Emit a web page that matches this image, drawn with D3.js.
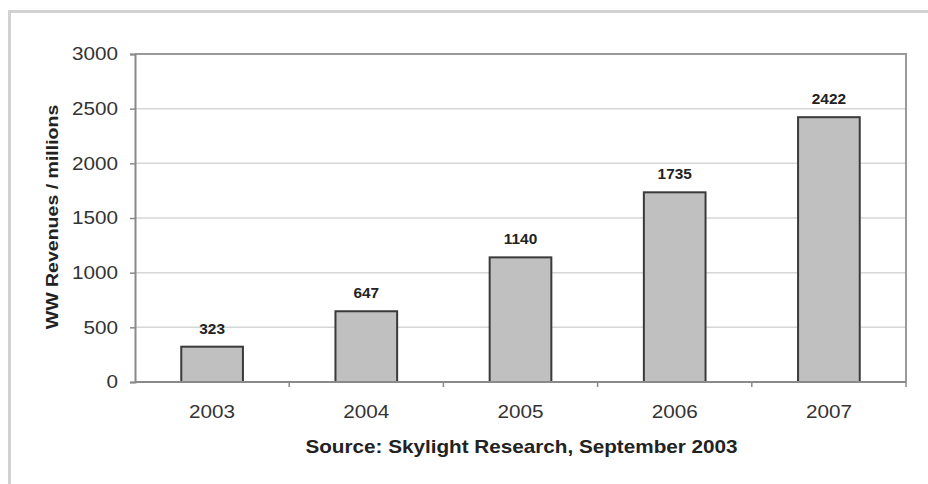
<!DOCTYPE html>
<html>
<head>
<meta charset="utf-8">
<script src="https://cdn.jsdelivr.net/npm/d3@7"></script>
<style>
  body { margin: 0; background: #fff; }
  svg { display: block; font-family: "Liberation Sans", Arial, sans-serif; }
</style>
</head>
<body>
<div class="chart"></div>
<script>
// values
const years = ["2003", "2004", "2005", "2006", "2007"];
const revenues = [323, 647, 1140, 1735, 2422];
const yTicks = [0, 500, 1000, 1500, 2000, 2500, 3000];
const yLabel = "WW Revenues / millions";
const sourceNote = "Source: Skylight Research, September 2003";

const width = 928;
const height = 484;
const plot = {left: 135, right: 906, top: 54, bottom: 382};
// the source image text is a bit stretched along its reading direction
const stretch = 1.15;

const svg = d3.select(".chart")
    .append("svg")
    .attr("width", width)
    .attr("height", height);

// outer frame (only top and left edges show)
svg.append("rect")
    .attr("x", 9.5)
    .attr("y", 11.5)
    .attr("width", 1000)
    .attr("height", 1000)
    .attr("fill", "none")
    .attr("stroke", "#d2d2d2")
    .attr("stroke-width", 3);

const xScale = d3.scaleBand()
    .domain(years)
    .range([plot.left, plot.right])
    .paddingInner(0.6)
    .paddingOuter(0.3);

const yScale = d3.scaleLinear()
    .domain([0, 3000])
    .range([plot.bottom, plot.top]);

// gridlines
svg.append("g")
    .selectAll("line")
    .data(yTicks.filter(d => d > 0 && d < 3000))
    .enter()
    .append("line")
    .attr("x1", plot.left)
    .attr("x2", plot.right)
    .attr("y1", d => yScale(d))
    .attr("y2", d => yScale(d))
    .attr("stroke", "#d6d6d6")
    .attr("stroke-width", 1.5);

// plot area top + right border
svg.append("path")
    .attr("d", `M${plot.left},${plot.top}H${plot.right}V${plot.bottom}`)
    .attr("fill", "none")
    .attr("stroke", "#9a9a9a")
    .attr("stroke-width", 2);

// bars
svg.append("g")
    .selectAll("rect")
    .data(revenues)
    .enter()
    .append("rect")
    .attr("x", (d, i) => xScale(years[i]))
    .attr("y", d => yScale(d))
    .attr("width", xScale.bandwidth())
    .attr("height", d => yScale(0) - yScale(d))
    .attr("fill", "#c0c0c0")
    .attr("stroke", "#3a3a3a")
    .attr("stroke-width", 2);

// value labels
svg.append("g")
    .selectAll("text")
    .data(revenues)
    .enter()
    .append("text")
    .attr("transform", (d, i) =>
        `translate(${xScale(years[i]) + xScale.bandwidth() / 2},${yScale(d) - 13}) scale(1.1,1)`)
    .attr("text-anchor", "middle")
    .attr("font-size", 14)
    .attr("font-weight", "bold")
    .attr("fill", "#222")
    .text(d => d);

// y axis
const yAxis = svg.append("g")
    .attr("transform", `translate(${plot.left},0)`)
    .call(d3.axisLeft(yScale).tickValues(yTicks).tickFormat(d3.format("d")).tickSize(5));
yAxis.select(".domain").attr("stroke", "#8a8a8a").attr("stroke-width", 2);
yAxis.selectAll(".tick line").attr("stroke", "#8a8a8a").attr("stroke-width", 1.5);
yAxis.selectAll("text")
    .attr("x", -17 / stretch)
    .attr("transform", `scale(${stretch},1)`)
    .attr("font-size", 18)
    .attr("font-family", "Liberation Sans, Arial, sans-serif")
    .attr("fill", "#333");

// x axis: ticks between categories
const xAxis = svg.append("g")
    .attr("transform", `translate(0,${plot.bottom})`);
xAxis.append("line")
    .attr("x1", plot.left)
    .attr("x2", plot.right)
    .attr("stroke", "#8a8a8a")
    .attr("stroke-width", 2);
xAxis.selectAll(".sep")
    .data(years)
    .enter()
    .append("line")
    .attr("class", "sep")
    .attr("x1", (d, i) => plot.left + xScale.step() * (i + 1))
    .attr("x2", (d, i) => plot.left + xScale.step() * (i + 1))
    .attr("y1", 0)
    .attr("y2", 5)
    .attr("stroke", "#8a8a8a")
    .attr("stroke-width", 1.5);
xAxis.selectAll(".yr")
    .data(years)
    .enter()
    .append("text")
    .attr("class", "yr")
    .attr("transform", d => `translate(${xScale(d) + xScale.bandwidth() / 2},36) scale(${stretch},1)`)
    .attr("text-anchor", "middle")
    .attr("font-size", 18)
    .attr("fill", "#333")
    .text(d => d);

// source note
svg.append("text")
    .attr("transform", `translate(${(plot.left + plot.right) / 2 + 1},453) scale(${stretch},1)`)
    .attr("text-anchor", "middle")
    .attr("font-size", 18)
    .attr("font-weight", "bold")
    .attr("fill", "#222")
    .text(sourceNote);

// y axis title
svg.append("text")
    .attr("transform", `translate(58,217) rotate(-90) scale(${stretch},1)`)
    .attr("text-anchor", "middle")
    .attr("font-size", 17)
    .attr("font-weight", "bold")
    .attr("fill", "#222")
    .text(yLabel);
</script>
</body>
</html>
